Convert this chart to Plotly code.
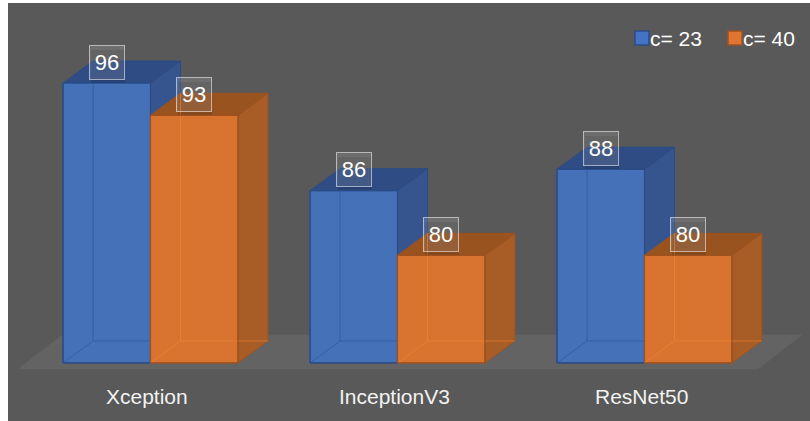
import plotly.graph_objects as go

# ---- data -------------------------------------------------------------
models = ["Xception", "InceptionV3", "ResNet50"]
series_names = ["c= 23", "c= 40"]
c23 = [96, 86, 88]
c40 = [93, 80, 80]

# ---- geometry / style ---------------------------------------------------
BASE = 70            # value where the bars stand on the floor
W = 0.354            # bar width (x units, one group = 1)
DX, DY = 0.1215, 2.04  # depth offset of the 3-D boxes (x units, value units)

W_PX, H_PX = 810, 421
ML, MT = 8, 3
X_RANGE = [-0.5769, 2.6701]
Y_RANGE = [64.61, 103.43]

FONT = "Liberation Sans, Arial"
BG = "#595959"
FLOOR = "#646363"
STYLES = [
    dict(front="#4571B9", top="#2F4C85", side="#36558E", edge="#2B4C86",
         inner="rgba(40,80,150,0.55)", swatch="#4472C4"),
    dict(front="#D8742F", top="#98531F", side="#A85C26", edge="#9E5220",
         inner="rgba(240,135,55,0.6)", swatch="#E07430"),
]

fig = go.Figure()


def poly_trace(polys, fill, line, width=1.0):
    xs, ys = [], []
    for p in polys:
        for (x, y) in p + [p[0]]:
            xs.append(x)
            ys.append(y)
        xs.append(None)
        ys.append(None)
    return go.Scatter(x=xs, y=ys, mode="lines", fill="toself", fillcolor=fill,
                      line=dict(color=line, width=width), hoverinfo="skip",
                      showlegend=False)


def line_trace(segs, color, width=1.0):
    xs, ys = [], []
    for (a, b) in segs:
        xs += [a[0], b[0], None]
        ys += [a[1], b[1], None]
    return go.Scatter(x=xs, y=ys, mode="lines", line=dict(color=color, width=width),
                      hoverinfo="skip", showlegend=False)


# floor of the 3-D chart
n = len(models)
fx0, fx1 = -0.536, (n - 1) + 0.4595
fdx = 0.178
fy_front, fy_back = BASE - 0.56, BASE + 2.6
fig.add_trace(poly_trace([[(fx0, fy_front), (fx1, fy_front),
                           (fx1 + fdx, fy_back), (fx0 + fdx, fy_back)]],
                         FLOOR, FLOOR, 0.5))

# boxes: first series left of the group centre, second to the right
for s, vals in enumerate([c23, c40]):
    st = STYLES[s]
    fronts, tops, sides, inner = [], [], [], []
    for i, v in enumerate(vals):
        x0 = i - W if s == 0 else i
        x1 = x0 + W
        B, T = BASE, v
        fronts.append([(x0, B), (x1, B), (x1, T), (x0, T)])
        tops.append([(x0, T), (x1, T), (x1 + DX, T + DY), (x0 + DX, T + DY)])
        sides.append([(x1, B), (x1 + DX, B + DY), (x1 + DX, T + DY), (x1, T)])
        inner += [((x0 + DX, B + DY), (x0 + DX, T + DY)),
                  ((x0 + DX, B + DY), (x1 + DX, B + DY)),
                  ((x0, B), (x0 + DX, B + DY))]
    fig.add_trace(poly_trace(sides, st["side"], st["edge"]))
    fig.add_trace(poly_trace(tops, st["top"], st["edge"]))
    fig.add_trace(poly_trace(fronts, st["front"], st["edge"]))
    fig.add_trace(line_trace(inner, st["inner"]))
    fig.add_trace(poly_trace(fronts, "rgba(0,0,0,0)", st["edge"], 1.2))

# value labels in framed boxes above each front face
for s, vals in enumerate([c23, c40]):
    for i, v in enumerate(vals):
        xc = i - W / 2 if s == 0 else i + W / 2
        fig.add_annotation(x=xc, y=v, xref="x", yref="y", text=str(v),
                           showarrow=False, yshift=17, xshift=1, width=32, height=31,
                           bgcolor="rgba(0,0,0,0.12)", borderwidth=0,
                           font=dict(size=1, color="rgba(0,0,0,0)"))
        fig.add_annotation(x=xc, y=v, xref="x", yref="y", text=str(v),
                           showarrow=False, yshift=21, width=32, height=31,
                           bgcolor="rgba(255,255,255,0.13)",
                           bordercolor="rgba(255,255,255,0.55)", borderwidth=1,
                           font=dict(family=FONT, size=22, color="#FFFFFF"))

# category labels under the groups
for i, m in enumerate(models):
    fig.add_annotation(x=i, y=BASE, xref="x", yref="y", text=m, showarrow=False,
                       yshift=-34, xshift=-3, yanchor="middle",
                       font=dict(family=FONT, size=21, color="#F2F2F2"))


# legend (top right)
def px_to_paper(px, py):
    return (px - ML) / (W_PX - ML), 1 - (py - MT) / (H_PX - MT)


for s, (name, lx) in enumerate(zip(series_names, [635, 728])):
    st = STYLES[s]
    ax0, ay0 = px_to_paper(lx, 31)
    ax1, ay1 = px_to_paper(lx + 14, 45)
    fig.add_shape(type="rect", xref="paper", yref="paper", x0=ax0, x1=ax1,
                  y0=ay1, y1=ay0, fillcolor=st["swatch"],
                  line=dict(color=st["edge"], width=1.5))
    tx, ty = px_to_paper(lx + 13, 38)
    fig.add_annotation(x=tx, y=ty, xref="paper", yref="paper", text=name,
                       showarrow=False, xanchor="left", yanchor="middle",
                       font=dict(family=FONT, size=21, color="#FFFFFF"))

fig.update_layout(
    width=W_PX, height=H_PX,
    margin=dict(l=ML, r=0, t=MT, b=0),
    paper_bgcolor="#FFFFFF", plot_bgcolor=BG,
    showlegend=False,
    xaxis=dict(range=X_RANGE, visible=False, fixedrange=True),
    yaxis=dict(range=Y_RANGE, visible=False, fixedrange=True),
)

fig.write_html("out.html")
